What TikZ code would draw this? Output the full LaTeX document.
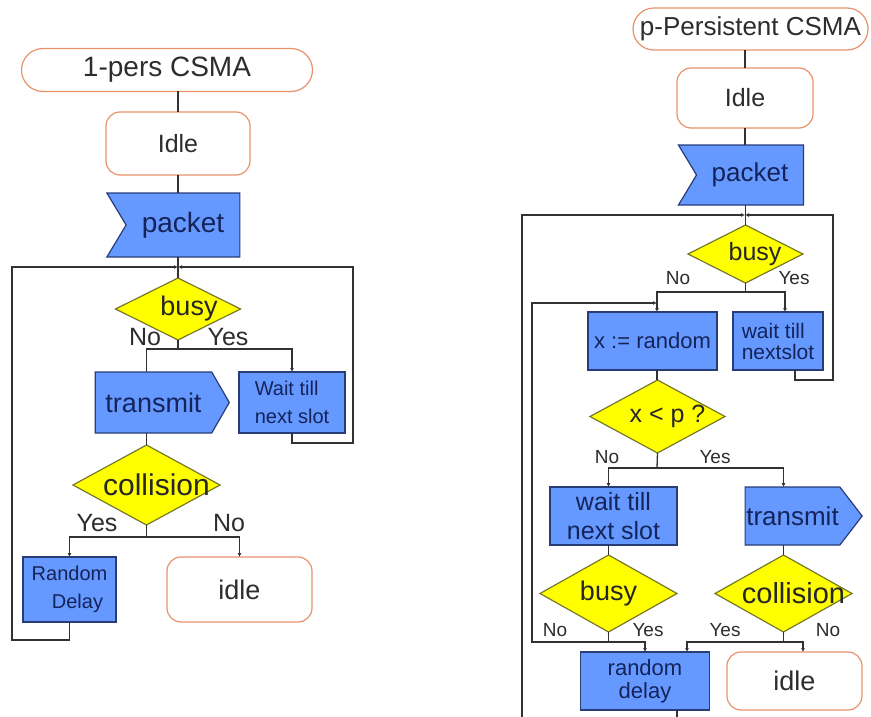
\documentclass[tikz,border=0pt]{standalone}
\usepackage{fontspec}
\setmainfont{Liberation Sans}
\usetikzlibrary{shapes.geometric,shapes.misc,shapes.symbols,arrows.meta}
\definecolor{bfill}{RGB}{102,153,255}
\definecolor{bline}{RGB}{40,60,120}
\definecolor{btext}{RGB}{20,35,90}
\definecolor{yfill}{RGB}{255,255,0}
\definecolor{yline}{RGB}{120,120,40}
\definecolor{oline}{RGB}{232,146,106}
\definecolor{gline}{RGB}{50,50,50}
\definecolor{gtext}{RGB}{45,45,45}
\newcommand\szfont[2]{\fontsize{#1}{#2}\selectfont}
\tikzset{
 base/.style={inner sep=0pt, outer sep=0pt, line width=1.2pt, align=center},
 term/.style={base, rounded rectangle, draw=oline, fill=white, text=gtext},
 idlebox/.style={base, rectangle, rounded corners=14pt, draw=oline, fill=white, text=gtext},
 procbox/.style={base, rectangle, draw=bline, fill=bfill, text=btext},
 recvbox/.style={base, signal, signal from=west, signal to=nowhere, signal pointer angle=118, draw=bline, fill=bfill, text=btext},
 sendbox/.style={base, signal, signal to=east, signal pointer angle=120, draw=bline, fill=bfill, text=btext},
 decide/.style={base, diamond, draw=yline, fill=yfill, text=black!85},
 conn/.style={draw=gline, line width=1.3pt},
 arr/.style={conn, -{Latex[length=4pt,width=4pt]}},
 lab/.style={inner sep=0pt, text=gtext},
}
\begin{document}
\begin{tikzpicture}[x=1pt,y=-1pt]
\useasboundingbox (0,0) rectangle (871,717);
\fill[white] (0,0) rectangle (871,717);

% ---------------- left chart ----------------
\node[term, minimum width=291pt, minimum height=43pt, font=\szfont{28}{28}] (t1) at (167,70) {1-pers CSMA};
\node[idlebox, minimum width=144pt, minimum height=63pt, font=\szfont{25}{28}] (i1) at (178,143.5) {Idle};
\node[recvbox, minimum width=133pt, minimum height=64pt, font=\szfont{28}{28}] (p1) at (183,225) {packet};
\node[decide, minimum width=125pt, minimum height=62pt, font=\szfont{27}{28}] (b1) at (178,309) {\makebox[0pt]{\hspace*{22pt}busy}};
\node[sendbox, minimum width=134pt, minimum height=61pt, font=\szfont{27}{28}] (tr1) at (153.5,402.5) {transmit};
\node[procbox, minimum width=106pt, minimum height=61pt, font=\szfont{20}{28}, align=left] (w1) at (292,402.5) {Wait till\\next slot};
\node[decide, minimum width=147pt, minimum height=80pt, font=\szfont{30}{30}] (c1) at (146.5,485) {\makebox[0pt]{\hspace*{20pt}collision}};
\node[procbox, minimum width=93pt, minimum height=65pt, font=\szfont{20}{28}] (r1) at (69.5,589.5) {Random\\\hspace*{16pt}Delay};
\node[idlebox, minimum width=145pt, minimum height=65pt, font=\szfont{27}{28}] (e1) at (239.5,589.5) {idle};

\coordinate (j1) at (178,267);
\coordinate (sb1) at (178,349);
\coordinate (sc1) at (146.5,537);
\coordinate (rr1) at (353,443);
\coordinate (ll1) at (12,640);

\draw[conn] (i1.north |- t1.south) -- (i1.north);
\draw[conn] (i1.south) -- (i1.south |- p1.north);
\draw[conn] (b1.north |- p1.south) -- (b1.north);
\draw[arr] (w1.south) |- (rr1) |- (j1);
\draw[arr] (r1.south) |- (ll1) |- (j1);
\draw[conn] (b1.south) -- (sb1);
\draw[arr] (sb1) -| (w1.north);
\draw[conn] (sb1) -| (c1.north |- tr1.north);
\draw[conn] (c1.north |- tr1.south) -- (c1.north);
\draw[conn] (c1.south) -- (sc1);
\draw[arr] (sc1) -| (r1.north);
\draw[arr] (sc1) -| (e1.north);

\node[lab, font=\szfont{25}{28}] (l1) at (145,337) {No};
\node[lab, font=\szfont{25}{28}] (l2) at (228,337) {Yes};
\node[lab, font=\szfont{25}{28}] (l3) at (97,523) {Yes};
\node[lab, font=\szfont{25}{28}] (l4) at (229,523) {No};

% ---------------- right chart ----------------
\node[term, minimum width=235pt, minimum height=42pt, font=\szfont{26}{28}] (t2) at (750.5,29) {p-Persistent CSMA};
\node[idlebox, minimum width=136pt, minimum height=60pt, font=\szfont{25}{28}] (i2) at (745,98) {Idle};
\node[recvbox, minimum width=125pt, minimum height=60pt, font=\szfont{26}{28}] (p2) at (750,175) {packet};
\node[decide, minimum width=115pt, minimum height=58pt, font=\szfont{25}{28}] (b2) at (745.5,254) {\makebox[0pt]{\hspace*{19pt}busy}};
\node[procbox, minimum width=129pt, minimum height=58pt, font=\szfont{22}{26}] (x2) at (652.5,341) {x := random};
\node[procbox, minimum width=90pt, minimum height=58pt, font=\szfont{21}{21}, align=left] (w2) at (778,341) {wait till\\nextslot};
\node[decide, minimum width=135pt, minimum height=73pt, font=\szfont{25}{28}] (xp) at (657.5,416.5) {\makebox[0pt]{\hspace*{20pt}x < p ?}};
\node[procbox, minimum width=127pt, minimum height=58pt, font=\szfont{25}{29}] (w3) at (613.5,516) {wait till\\next slot};
\node[sendbox, signal pointer angle=105, minimum width=117pt, minimum height=58pt, font=\szfont{26}{28}] (tr2) at (792.5,516) {transmit};
\node[decide, minimum width=137pt, minimum height=77pt, font=\szfont{27}{28}] (b3) at (608.5,593.5) {\makebox[0pt]{busy}};
\node[decide, minimum width=137pt, minimum height=77pt, font=\szfont{29}{28}] (c2) at (783.5,593.5) {\makebox[0pt]{\hspace*{20pt}collision}};
\node[procbox, minimum width=129pt, minimum height=58pt, font=\szfont{22}{23}] (r2) at (645,681) {random\\delay};
\node[idlebox, minimum width=135pt, minimum height=58pt, font=\szfont{27}{28}] (e2) at (794.5,681) {idle};

\coordinate (j2) at (745,215);
\coordinate (sb2) at (745.5,292);
\coordinate (rr2) at (833,380);
\coordinate (lb2) at (522,717);
\coordinate (rb2) at (677,717);
\coordinate (sx2) at (657,468);
\coordinate (sb3) at (608.5,642);
\coordinate (sc2) at (783.5,642);
\coordinate (ln2) at (532,642);
\coordinate (j3) at (657,303);
\coordinate (ry2) at (687,652);

\draw[conn] (i2.north |- t2.south) -- (i2.north);
\draw[conn] (i2.south) -- (i2.south |- p2.north);
\draw[conn] (b2.north |- p2.south) -- (b2.north);
\draw[arr] ([xshift=17pt]w2.south) |- (rr2) |- (j2);
\draw[arr] (lb2) |- (j2);
\draw[conn] (b2.south) -- (sb2);
\draw[arr] (sb2) -| (x2.north -| j3);
\draw[arr] (sb2) -| ([xshift=7pt]w2.north);
\draw[conn] (x2.south -| j3) -- (xp.north -| j3);
\draw[conn] (xp.south) -- (sx2);
\draw[arr] (sx2) -| (w3.north -| b3.north);
\draw[arr] (sx2) -| (tr2.north -| c2.north);
\draw[conn] (w3.south -| b3.north) -- (b3.north);
\draw[conn] (tr2.south -| c2.north) -- (c2.north);
\draw[conn] (b3.south) -- (sb3);
\draw[arr] (sb3) -| (r2.north);
\draw[arr] (sb3) -- (ln2) |- (j3);
\draw[conn] (c2.south) -- (sc2);
\draw[arr] (sc2) -| (ry2);
\draw[arr] (sc2) -| ([xshift=8.5pt]e2.north);
\draw[conn] (r2.south -| rb2) -- (rb2);

\node[lab, font=\szfont{19}{22}] (m1) at (678,278) {No};
\node[lab, font=\szfont{19}{22}] (m2) at (794,278) {Yes};
\node[lab, font=\szfont{19}{22}] (m3) at (607,457) {No};
\node[lab, font=\szfont{19}{22}] (m4) at (715,457) {Yes};
\node[lab, font=\szfont{19}{22}] (m5) at (555,630) {No};
\node[lab, font=\szfont{19}{22}] (m6) at (648,630) {Yes};
\node[lab, font=\szfont{19}{22}] (m7) at (725,630) {Yes};
\node[lab, font=\szfont{19}{22}] (m8) at (828,630) {No};
\end{tikzpicture}
\end{document}
